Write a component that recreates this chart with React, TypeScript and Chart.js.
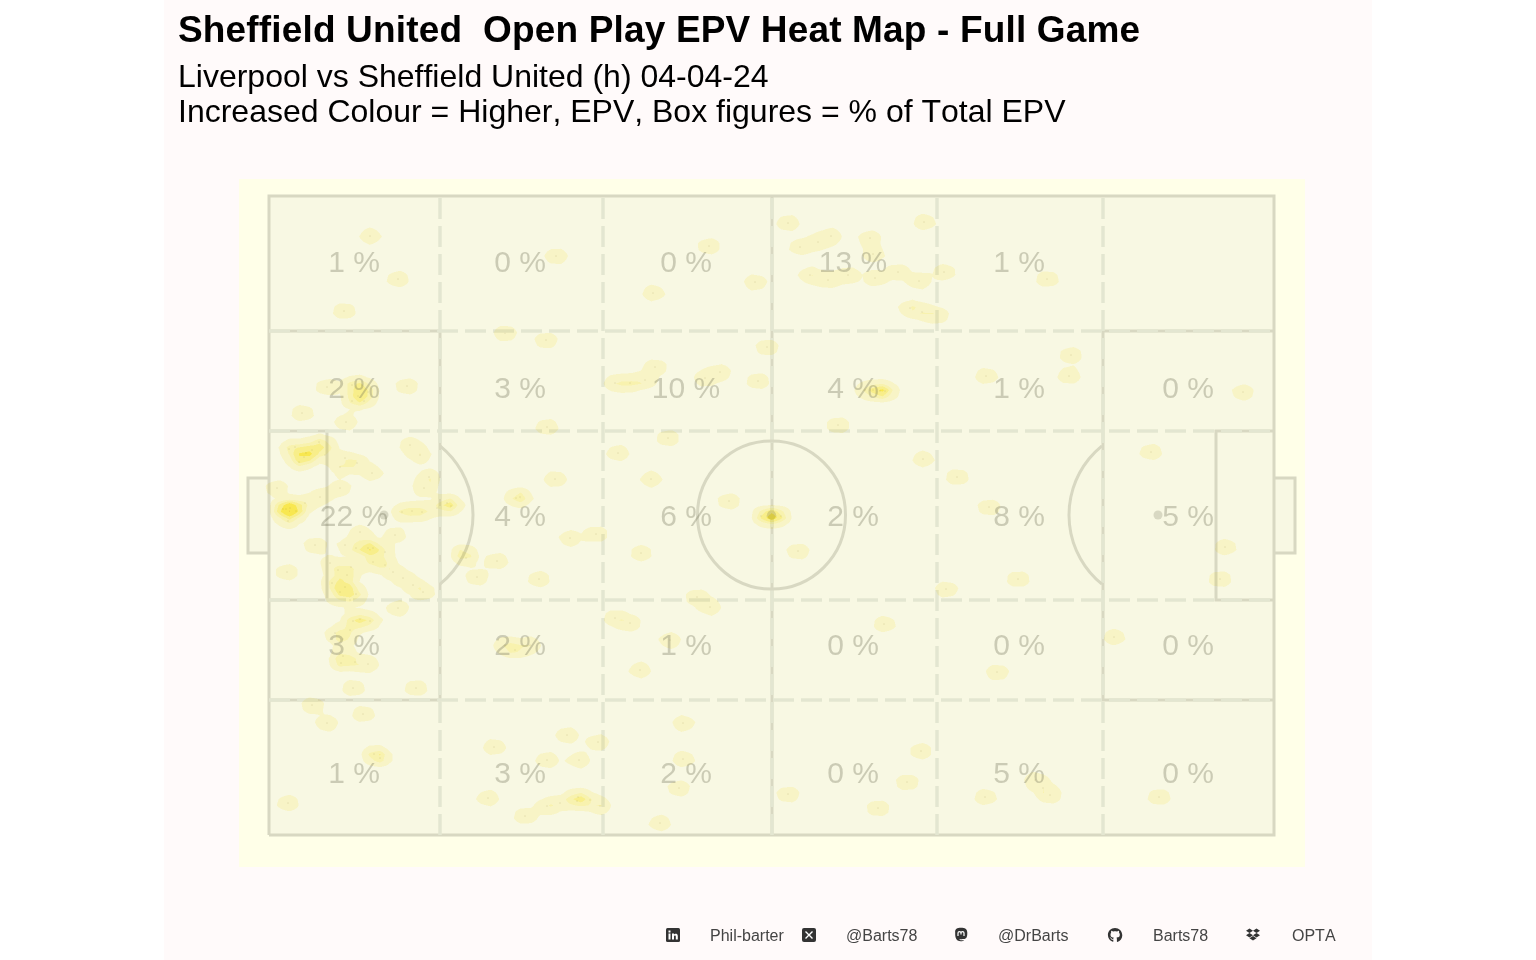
import React, { useEffect, useRef } from "react";
import { Chart, registerables } from "chart.js";

Chart.register(...registerables);

const titleText = "Sheffield United  Open Play EPV Heat Map - Full Game";
const subtitleLines = ["Liverpool vs Sheffield United (h) 04-04-24", "Increased Colour = Higher, EPV, Box figures = % of Total EPV"];

// pitch units: x 0..1005, y 0..639
const zoneColumns = [85, 251, 417, 584, 750, 919];
const zoneRows = [571, 445, 317, 188, 60];
const zoneShare: (number | null)[][] = [
  [1, 0, 0, 13, 1, null],
  [2, 3, 10, 4, 1, 0],
  [22, 4, 6, 2, 8, 5],
  [3, 2, 1, 0, 0, 0],
  [1, 3, 2, 0, 5, 0],
];

type P = [number, number];
type E = [number, number, number];
const outline: P[] = [[0, 0], [1005, 0], [1005, 639], [0, 639], [0, 0]];
const boxLeft: P[] = [[0, 135], [171, 135], [171, 504], [0, 504]];
const boxRight: P[] = [[1005, 135], [834, 135], [834, 504], [1005, 504]];
const sixLeft: P[] = [[0, 235], [58, 235], [58, 404], [0, 404]];
const sixRight: P[] = [[1005, 235], [947, 235], [947, 404], [1005, 404]];
const goalLeft: P[] = [[0, 282], [-21, 282], [-21, 357], [0, 357]];
const goalRight: P[] = [[1005, 282], [1026, 282], [1026, 357], [1005, 357]];
const halfway: P[] = [[503, 0], [503, 639]];
const dashedVertical = [171, 334, 503, 668, 834];
const dashedHorizontal = [135, 235, 404, 504];
const penaltySpots: P[] = [[115, 320], [889, 320]];
const centre: P = [502.5, 320];

// EPV events: x, y, weight
const eventsOwnBox: E[] = [
  [20, 386, 0.8], [50, 393, 1], [37, 382, 1], [30, 373, 1], [35, 378, 1], [58, 388, 0.8], [43, 385, 0.8], [26, 388, 0.6], [56, 380, 0.5],
  [71, 368, 0.9], [76, 377, 0.5], [88, 372, 1.1], [103, 362, 0.9], [141, 390, 1], [151, 380, 1],
  [8, 347, 1], [14, 326, 1], [17, 326, 1], [21, 327, 1.4], [27, 324, 1], [19, 314, 0.9], [51, 338, 1], [71, 347, 1], [36, 332, 0.7],
  [46, 290, 1], [18, 263, 1],
  [99, 287, 1.2], [104, 287, 1], [87, 287, 0.8], [76, 290, 0.5], [116, 283, 0.6], [104, 273, 1.1], [116, 270, 0.8], [91, 303, 0.9], [126, 300, 0.9], [124, 263, 0.6], [134, 257, 0.8], [144, 250, 0.7], [154, 243, 1],
  [78, 260, 1], [82, 268, 0.7], [69, 265, 0.6], [76, 248, 1.3], [87, 241, 1], [63, 252, 1], [61, 272, 0.8], [71, 243, 0.8], [66, 235, 0.5], [81, 235, 0.6],
  [160, 358, 1], [155, 347, 1], [153, 323, 1], [133, 323, 1], [143, 324, 0.7], [178, 332, 1], [182, 329, 1], [168, 327, 0.5],
  [194, 282, 1.2], [197, 277, 0.6], [208, 258, 1], [228, 274, 1], [129, 227, 1],
];
const eventsUpperLeft: E[] = [
  [101, 599, 1], [129, 556, 1], [75, 524, 1], [287, 579, 1], [236, 502, 1], [277, 495, 1],
  [83, 450, 1], [93, 450, 1], [99, 443, 0.8], [89, 439, 1], [83, 434, 0.7], [95, 434, 0.7], [58, 448, 1], [138, 449, 1], [33, 422, 1], [77, 413, 1],
  [278, 408, 1],
];
const eventsLowerLeft: E[] = [
  [84, 214, 1.05], [91, 216, 0.7], [101, 214, 1.05], [74, 196, 1.1], [66, 202, 0.7], [74, 179, 1], [72, 172, 1], [99, 171, 1], [86, 173, 0.6], [81, 205, 0.6],
  [84, 147, 1], [147, 147, 1], [43, 130, 1], [94, 121, 1], [58, 112, 1], [105, 81, 1.05], [111, 77, 1.05], [19, 32, 1],
  [298, 100, 1], [329, 93, 1], [225, 88, 1], [278, 75, 1], [310, 75, 1], [219, 37, 1],
  [256, 19, 1], [278, 29, 1], [291, 32, 0.6], [309, 38, 1], [308, 34, 1], [331, 29, 1], [321, 35, 0.5],
  [236, 190, 1], [261, 190, 1], [246, 185, 1], [270, 256, 1],
];
const eventsMiddle: E[] = [
  [440, 589, 1], [384, 542, 1], [486, 553, 1], [346, 452, 1], [361, 452, 1], [376, 455, 1], [386, 468, 1], [451, 463, 1], [436, 457, 1], [489, 454, 1], [498, 488, 1],
  [399, 397, 1], [349, 382, 1], [382, 356, 1], [286, 356, 1], [251, 338, 1.1], [247, 337, 0.6], [301, 297, 1], [327, 301, 1], [372, 282, 1], [460, 334, 1],
  [502, 319, 1], [498, 319, 0.9], [507, 319, 0.9], [492, 319, 0.5], [512, 319, 0.5], [529, 284, 1],
  [401, 195, 1], [346, 217, 1], [361, 212, 1], [371, 165, 1], [428, 238, 1], [441, 228, 1], [414, 112, 1], [414, 76, 1], [410, 47, 1], [391, 12, 1],
  [519, 41, 1],
];
const eventsAttacking: E[] = [
  [519, 612, 1], [531, 588, 0.95], [549, 593, 0.95], [562, 599, 0.95], [601, 597, 1], [604, 581, 1], [655, 613, 1],
  [541, 560, 1.05], [559, 555, 1.05], [579, 560, 1], [606, 557, 1], [629, 563, 1], [650, 554, 1], [675, 563, 1], [778, 556, 1],
  [641, 527, 1], [653, 523, 0.8], [668, 520, 1], [802, 480, 1], [717, 459, 1], [800, 459, 1], [974, 443, 1], [882, 383, 1], [956, 288, 1], [951, 256, 1],
  [616, 444, 1.3], [611, 444, 1], [596, 445, 0.8], [604, 445, 0.5], [569, 410, 1], [654, 376, 1], [688, 358, 1], [720, 328, 1], [749, 256, 1], [677, 246, 1], [845, 198, 1], [728, 163, 1],
  [615, 211, 1], [652, 84, 1], [638, 53, 1], [609, 27, 1], [766, 55, 1], [781, 40, 1], [774, 47, 0.6], [716, 38, 1], [890, 38, 1],
];
const allEvents: E[] = [...eventsOwnBox, ...eventsUpperLeft, ...eventsLowerLeft, ...eventsMiddle, ...eventsAttacking];

const densityBands: { level: number; rgb: [number, number, number] }[] = [
  { level: 0.35, rgb: [255, 251, 222] },
  { level: 1.05, rgb: [255, 249, 195] },
  { level: 1.55, rgb: [255, 245, 155] },
  { level: 2.2, rgb: [255, 238, 90] },
  { level: 3.4, rgb: [250, 215, 80] },
];

const toPts = (a: (P | E)[]) => a.map((p) => ({ x: p[0], y: p[1] }));

const makeHeat = (xs: any, ys: any, left: number, top: number, w: number, h: number) => {
  const cw = 10.05, ch = 6.39, sx = 7.5, sy = 5.5;
  const nx = Math.ceil(w / cw) + 2, ny = Math.ceil(h / ch) + 2;
  const grid = new Float32Array(nx * ny);
  allEvents.forEach(([ex, ey, wt]) => {
    const px = xs.getPixelForValue(ex) - left, py = ys.getPixelForValue(ey) - top;
    for (let j = 0; j < ny; j++) {
      const dy = j * ch - py;
      if (Math.abs(dy) > 30) continue;
      for (let i = 0; i < nx; i++) {
        const dx = i * cw - px;
        if (Math.abs(dx) > 40) continue;
        grid[j * nx + i] += wt * Math.exp(-(dx * dx) / (2 * sx * sx) - (dy * dy) / (2 * sy * sy));
      }
    }
  });
  const ss = 2;
  const c = document.createElement("canvas");
  c.width = w * ss;
  c.height = h * ss;
  const g = c.getContext("2d")!;
  const img = g.createImageData(c.width, c.height);
  const out = img.data;
  for (let y = 0; y < c.height; y++) {
    const gy = y / ss / ch, j = Math.floor(gy), fy = gy - j;
    for (let x = 0; x < c.width; x++) {
      const gx = x / ss / cw, i = Math.floor(gx), fx = gx - i;
      const a = grid[j * nx + i], b = grid[j * nx + i + 1], d = grid[(j + 1) * nx + i], e = grid[(j + 1) * nx + i + 1];
      const v = a * (1 - fx) * (1 - fy) + b * fx * (1 - fy) + d * (1 - fx) * fy + e * fx * fy;
      if (v < densityBands[0].level) continue;
      let band = densityBands[0];
      for (const k of densityBands) if (v >= k.level) band = k;
      const o = (y * c.width + x) * 4;
      out[o] = band.rgb[0];
      out[o + 1] = band.rgb[1];
      out[o + 2] = band.rgb[2];
      out[o + 3] = 255;
    }
  }
  g.putImageData(img, 0, 0);
  return c;
};

const lineSolid = "#D8D8C2";
const lineDash = "#E3E6D1";

const pitchPlugin = {
  id: "pitch",
  beforeDatasetsDraw(chart: any) {
    const { ctx, chartArea: a, scales } = chart;
    const { x, y } = scales;
    ctx.save();
    ctx.fillStyle = "#FFFFE8";
    ctx.fillRect(a.left, a.top, a.width, a.height);
    ctx.fillStyle = "#F8F8E3";
    ctx.fillRect(x.getPixelForValue(0), y.getPixelForValue(639), x.getPixelForValue(1005) - x.getPixelForValue(0), y.getPixelForValue(0) - y.getPixelForValue(639));
    [goalLeft, goalRight].forEach((pts) => {
      ctx.fillRect(x.getPixelForValue(Math.min(pts[0][0], pts[1][0])), y.getPixelForValue(357), 21, 75);
    });
    ctx.restore();
  },
  afterDatasetsDraw(chart: any) {
    const { ctx, scales, chartArea: a } = chart;
    const { x, y } = scales;
    ctx.save();
    ctx.strokeStyle = lineSolid;
    ctx.lineWidth = 3;
    const arc = (cx: number, cy: number, r: number, s: number, e: number) => {
      ctx.beginPath();
      ctx.arc(x.getPixelForValue(cx), y.getPixelForValue(cy), r, s, e);
      ctx.stroke();
    };
    arc(centre[0], centre[1], 74, 0, Math.PI * 2);
    const t = Math.acos(56 / 89);
    arc(penaltySpots[0][0], penaltySpots[0][1], 89, -t, t);
    arc(penaltySpots[1][0], penaltySpots[1][1], 89, Math.PI - t, Math.PI + t);
    ctx.fillStyle = lineSolid;
    [...penaltySpots, centre].forEach(([sx, sy]) => {
      ctx.beginPath();
      ctx.arc(x.getPixelForValue(sx), y.getPixelForValue(sy), 4.5, 0, Math.PI * 2);
      ctx.fill();
    });
    ctx.globalCompositeOperation = "multiply";
    ctx.imageSmoothingEnabled = true;
    ctx.imageSmoothingQuality = "high";
    ctx.drawImage(makeHeat(x, y, a.left, a.top, Math.round(a.width), Math.round(a.height)), a.left, a.top, Math.round(a.width), Math.round(a.height));
    ctx.globalCompositeOperation = "source-over";
    ctx.fillStyle = "rgba(110,110,85,0.32)";
    ctx.font = "30px 'Liberation Sans'";
    ctx.textAlign = "center";
    ctx.textBaseline = "middle";
    zoneShare.forEach((row, r) =>
      row.forEach((v, c) => {
        if (v === null) return;
        ctx.fillText(`${v} %`, x.getPixelForValue(zoneColumns[c]), y.getPixelForValue(zoneRows[r]));
      })
    );
    ctx.restore();
  },
};

const solid = (pts: P[]) => ({
  type: "scatter" as const,
  data: toPts(pts),
  showLine: true,
  pointRadius: 0,
  borderColor: lineSolid,
  borderWidth: 3,
  fill: false,
  order: 1,
  clip: false,
});
const dashed = (pts: P[]) => ({
  ...solid(pts),
  borderColor: lineDash,
  borderWidth: 3.5,
  borderDash: [21, 7],
  order: 0,
});

const Icon = ({ left, children }: { left: number; children: React.ReactNode }) => (
  <svg width={16} height={16} viewBox="0 0 16 16" style={{ position: "absolute", left: left - 8, top: 927 }}>
    {children}
  </svg>
);
const ink = "#333333";

const footer: [number, string][] = [
  [710, "Phil-barter"],
  [846, "@Barts78"],
  [998, "@DrBarts"],
  [1153, "Barts78"],
  [1292, "OPTA"],
];

export default function App() {
  const ref = useRef<HTMLCanvasElement>(null);
  useEffect(() => {
    const chart = new Chart(ref.current!, {
      type: "scatter",
      plugins: [pitchPlugin],
      data: {
        datasets: [
          ...dashedVertical.map((v) => dashed([[v, 0], [v, 639]])),
          ...dashedHorizontal.map((v) => dashed([[0, v], [1005, v]])),
          ...[outline, boxLeft, boxRight, sixLeft, sixRight, goalLeft, goalRight, halfway].map((p) => solid(p)),
          {
            type: "scatter" as const,
            data: toPts(allEvents),
            pointRadius: 0.45,
            pointBackgroundColor: "rgba(110,95,30,0.45)",
            pointBorderWidth: 0,
            order: 2,
          },
        ],
      } as any,
      options: {
        animation: false,
        responsive: false,
        layout: { padding: { left: 75, right: 67, top: 179, bottom: 93 } },
        plugins: { legend: { display: false }, tooltip: { enabled: false }, title: { display: false } },
        scales: {
          x: { type: "linear", min: -30, max: 1036, display: false },
          y: { type: "linear", min: -32, max: 656, display: false },
        },
      },
    });
    return () => chart.destroy();
  }, []);

  return (
    <div style={{ position: "fixed", left: 0, top: 0, width: 1536, height: 960, background: "#FFFFFF", fontFamily: "'Liberation Sans', Arial, sans-serif", overflow: "hidden" }}>
      <div style={{ position: "absolute", left: 164, top: 0, width: 1208, height: 960, background: "#FFFAFA" }} />
      <canvas ref={ref} width={1208} height={960} style={{ position: "absolute", left: 164, top: 0, width: 1208, height: 960 }} />
      <div style={{ position: "absolute", left: 178, top: 9, fontSize: 37, fontWeight: 700, lineHeight: "42px", color: "#000", whiteSpace: "pre", fontKerning: "none", letterSpacing: 0.16 }}>{titleText}</div>
      {subtitleLines.map((s, i) => (
        <div key={i} style={{ position: "absolute", left: 178, top: 58 + i * 34.5, fontSize: 32, lineHeight: "37px", color: "#000", whiteSpace: "pre", fontKerning: "none" }}>{s}</div>
      ))}
      {footer.map(([l, s]) => (
        <div key={s} style={{ position: "absolute", left: l, top: 927, fontSize: 16, lineHeight: "18px", color: "#444", whiteSpace: "pre", fontKerning: "none" }}>{s}</div>
      ))}
      <Icon left={673}>
        <rect x={1} y={1} width={14} height={14} rx={1.5} fill={ink} />
        <rect x={3.5} y={6.5} width={2} height={6} fill="#fff" />
        <rect x={3.5} y={3.5} width={2} height={2} fill="#fff" />
        <path d="M7 6.5h2v1c.6-1 3.8-1.6 3.8 1.4v3.6h-2V9.5c0-1.4-1.8-1.3-1.8 0v3H7z" fill="#fff" />
      </Icon>
      <Icon left={809}>
        <rect x={1} y={1} width={14} height={14} rx={2} fill={ink} />
        <path d="M4.5 4.5l7 7M11.5 4.5l-7 7" stroke="#fff" strokeWidth={1.4} />
      </Icon>
      <Icon left={961}>
        <path d="M8 .8c3.900 0 6.300 1.300 6.300 4.900 0 3.700-.4 5.900-3.800 6.400-1.500.2-3.300.1-4.100-.2 0 1.100 1.100 1.700 4.800 1.300-1.500 1.500-7.600 1.800-8.500-2.400C2.100 8.600 2.200 7.100 2.200 5.700 1.700 2.100 4.100.8 8 .8z" fill={ink} />
        <path d="M5 9V6c0-1.800 3-1.800 3 0v1.500V6c0-1.800 3-1.800 3 0v3" stroke="#fff" strokeWidth={1.2} fill="none" />
      </Icon>
      <Icon left={1115}>
        <path d="M8 1C3.900 1 .9 4 .9 8c0 3.100 2 5.800 4.900 6.800.4 0 .5-.2.5-.4v-1.800s-2 .4-2.500-.9c0 0-.3-.9-.8-1.100 0 0-.7-.4 0-.4 0 0 .7 0 1.200.9.6 1.100 1.700.8 2.100.6.1-.5.3-.8.5-1-1.600-.2-3.300-.4-3.300-3.200 0-.8.2-1.200.7-1.700-.1-.2-.3-1 .1-2 .6-.2 2 .8 2 .8.6-.2 1.200-.3 1.800-.3s1.200.1 1.800.3c0 0 1.400-1 2-.8.4 1 .2 1.800.1 2 .5.500.8.900.8 1.700 0 2.800-1.700 3-3.400 3.200.3.200.5.700.5 1.400v2.500c0 .2.100.4.500.4 2.900-1 4.900-3.700 4.900-6.800C15.100 4 12.100 1 8 1z" fill={ink} />
      </Icon>
      <Icon left={1253}>
        <path d="M4.500 1.500L1 3.800l3.500 2.200L8 3.800zM11.500 1.500L8 3.800l3.500 2.200L15 3.800zM1 8.200l3.500 2.300L8 8.200 4.500 6zM11.500 6L8 8.200l3.500 2.300L15 8.200zM4.500 11.300L8 13.600l3.500-2.300L8 9.100z" fill={ink} />
      </Icon>
    </div>
  );
}
